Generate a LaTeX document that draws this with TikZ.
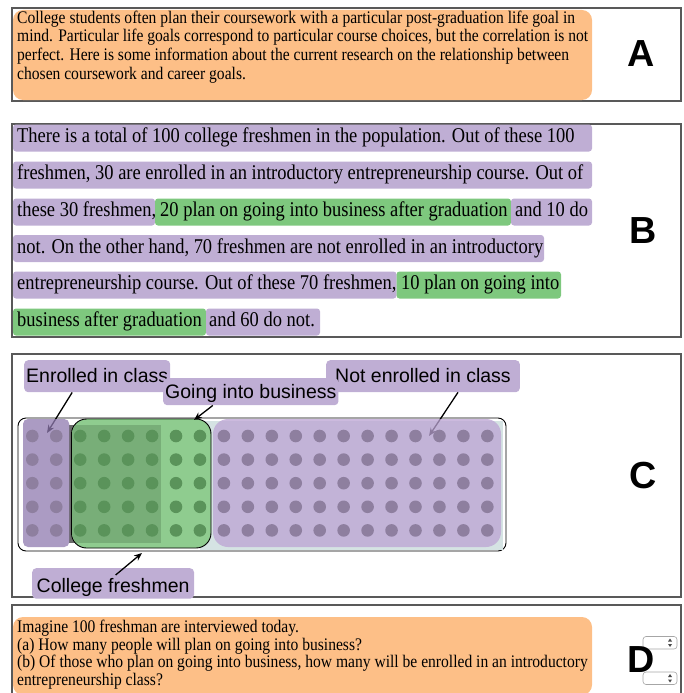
\documentclass[tikz,border=0pt]{standalone}
\usepackage{fontspec}
\usetikzlibrary{arrows.meta}
\newfontfamily\bodyfont{Liberation Serif}[FakeStretch=0.88]
\newfontfamily\labelfont{Liberation Sans}
\definecolor{boxorange}{HTML}{FDBF87}
\definecolor{hlpurple}{HTML}{BFAED4}
\definecolor{hlgreen}{HTML}{7EC87E}
\definecolor{leftpurple}{HTML}{8F7AB0}
\definecolor{rightpurple}{HTML}{BCA4D4}
\definecolor{dotpurple}{HTML}{8E7F9F}
\definecolor{dotgreen}{HTML}{5A935A}
\definecolor{lightgreen}{HTML}{8FCC8F}
\definecolor{darkgreen}{HTML}{78AE78}
\definecolor{bluegray}{HTML}{D5E3E3}
\tikzset{
	panel/.style={draw=black!65, line width=1.1pt},
	atext/.style={anchor=base west, inner sep=0pt, font=\bodyfont\fontsize{17.7}{20}\selectfont},
	btext/.style={anchor=base west, inner sep=0pt, font=\bodyfont\fontsize{21}{24}\selectfont},
	letter/.style={inner sep=0pt, font=\labelfont\bfseries\fontsize{37.7}{40}\selectfont},
	lbl/.style={fill=hlpurple, rounded corners=4pt, anchor=north west, inner ysep=0pt, font=\labelfont\fontsize{19.5}{22}\selectfont},
	pointer/.style={-{Stealth[length=8pt, width=6.5pt]}, line width=1.3pt},
	dropdown/.style={draw=black!35, fill=white, line width=0.6pt, rounded corners=3pt}
}
% one dot of the 100 freshmen
\def\freshdot(#1,#2)[#3]{\fill[#3] (#1,#2) circle[radius=6.3pt];}

\begin{document}
\begin{tikzpicture}[x=1pt, y=-1pt]
			%%%%% START %%%%%
			\useasboundingbox (0,0) rectangle (683,693);
			\clip (0,0) rectangle (683,693);
			
			%% panel A
			\draw[panel] (12,8) rectangle (681,101);
			\fill[boxorange, rounded corners=10pt] (13,10) rectangle (592,100);
			\node[atext] (a1) at (17,23.5) {College students often plan their coursework with a particular post-graduation life goal in};
			\node[atext] (a2) at (17,42) {mind. Particular life goals correspond to particular course choices, but the correlation is not};
			\node[atext] (a3) at (17,60.5) {perfect. Here is some information about the current research on the relationship between};
			\node[atext] (a4) at (17,79) {chosen coursework and career goals.};
			\node[letter] (lettera) at (641,54) {A};
			
			%% panel B
			\draw[panel] (12,124) rectangle (681,337);
			\fill[hlpurple, rounded corners=3pt] (13,124.5) rectangle (592,151.5);
			\fill[hlpurple, rounded corners=3pt] (13,161.5) rectangle (592,188.5);
			\fill[hlpurple, rounded corners=3pt] (13,198.5) rectangle (155,225.5);
			\fill[hlgreen, rounded corners=3pt] (155,198.5) rectangle (511,225.5);
			\fill[hlpurple, rounded corners=3pt] (511,198.5) rectangle (592,225.5);
			\fill[hlpurple, rounded corners=3pt] (13,235) rectangle (544,262);
			\fill[hlpurple, rounded corners=3pt] (13,271.5) rectangle (396.5,298.5);
			\fill[hlgreen, rounded corners=3pt] (396.5,271.5) rectangle (561,298.5);
			\fill[hlgreen, rounded corners=3pt] (13,308.5) rectangle (206,335.5);
			\fill[hlpurple, rounded corners=3pt] (206,308.5) rectangle (320,335.5);
			
			\node[btext] (b1) at (17,142.5) {There is a total of 100 college freshmen in the population. Out of these 100};
			\node[btext] (b2) at (17,179.5) {freshmen, 30 are enrolled in an introductory entrepreneurship course. Out of};
			\node[btext] (b3) at (17,216.5) {these 30 freshmen,};
			\node[btext] (b3g) at (160,216.5) {20 plan on going into business after graduation};
			\node[btext] (b3e) at (515,216.5) {and 10 do};
			\node[btext] (b4) at (17,253) {not. On the other hand, 70 freshmen are not enrolled in an introductory};
			\node[btext] (b5) at (17,289.5) {entrepreneurship course. Out of these 70 freshmen,};
			\node[btext] (b5g) at (401,289.5) {10 plan on going into};
			\node[btext] (b6g) at (17,326.5) {business after graduation};
			\node[btext] (b6e) at (209,326.5) {and 60 do not.};
			\node[letter] (letterb) at (643,231) {B};
			
			%% panel C
			\draw[panel] (12,354) rectangle (681,597);
			\draw[fill=white, line width=0.9pt, rounded corners=8pt] (18,418) rectangle (506,551);
			\fill[bluegray] (200,421) rectangle (503,549.5);
			\fill[black!58] (68.5,425) rectangle (161,543);
			
			\node[lbl, inner xsep=2pt, text height=22.3pt, text depth=9.7pt] (enrolled) at (24,360) {Enrolled in class};
			\node[lbl, inner xsep=9pt, text height=22.3pt, text depth=9.7pt] (notenrolled) at (326,360) {Not enrolled in class};
			\node[lbl, inner xsep=2pt, text height=20.5pt, text depth=6.5pt] (going) at (163,378) {Going into business};
			\node[lbl, inner xsep=4.5pt, text height=24.5pt, text depth=6pt] (college) at (32,568) {College freshmen};
			
			\coordinate (enrolledtip) at (47,433);
			\coordinate (notenrolledtip) at (429,436);
			\coordinate (goingtip) at (194,420);
			\coordinate (collegetip) at (142,553);
			\draw[pointer] ([xshift=-25pt]enrolled.south) -- (enrolledtip);
			\draw[pointer] ([xshift=35pt]notenrolled.south) -- (notenrolledtip);
			
			\draw[fill=lightgreen, line width=0.9pt, rounded corners=15pt] (71.5,419) rectangle (211,548);
			\begin{scope}
				\clip[rounded corners=15pt] (72,419.5) rectangle (210.5,547.5);
				\fill[darkgreen] (70,425) rectangle (161,543);
			\end{scope}
			\draw[hlgreen!80!black, line width=0.9pt] (86.5,419) -- (196,419);
			\fill[leftpurple, fill opacity=0.75, rounded corners=5pt] (23,419) rectangle (69.3,547);
			\fill[rightpurple, fill opacity=0.75, rounded corners=15pt] (213,419) rectangle (501,547);
			
			\foreach \c in {0,...,19}{
				\foreach \r in {0,...,4}{
					\ifnum\c>1 \ifnum\c<8 \def\dotcol{dotgreen}\else\def\dotcol{dotpurple}\fi\else\def\dotcol{dotpurple}\fi
					\freshdot({32.3+\c*23.95},{436+\r*23.6})[\dotcol]
				}
			}
			
			\draw[pointer] ([xshift=-38pt]going.south) -- (goingtip);
			\draw[pointer] ([xshift=2.5pt,yshift=-7pt]college.north) -- (collegetip);
			\node[letter] (letterc) at (643,476) {C};
			
			%% panel D
			\draw[panel] (12,605) rectangle (681,705);
			\fill[boxorange, rounded corners=10pt] (13,617) rectangle (592,695);
			\node[atext] (d1) at (17,632) {Imagine 100 freshman are interviewed today.};
			\node[atext] (d2) at (17,650) {(a) How many people will plan on going into business?};
			\node[atext] (d3) at (17,667.5) {(b) Of those who plan on going into business, how many will be enrolled in an introductory};
			\node[atext] (d4) at (17,685) {entrepreneurship class?};
			
			\draw[dropdown] (643,636.5) rectangle (677,649);
			\fill[black!70] (668,641.5) -- (672,641.5) -- (670,638.5) -- cycle;
			\fill[black!70] (668,644) -- (672,644) -- (670,647) -- cycle;
			\draw[dropdown] (643,672) rectangle (677,684.5);
			\fill[black!70] (668,677) -- (672,677) -- (670,674) -- cycle;
			\fill[black!70] (668,679.5) -- (672,679.5) -- (670,682.5) -- cycle;
			\node[letter] (letterd) at (641,660) {D};
			%%%%% END %%%%%
\end{tikzpicture}
\end{document}
